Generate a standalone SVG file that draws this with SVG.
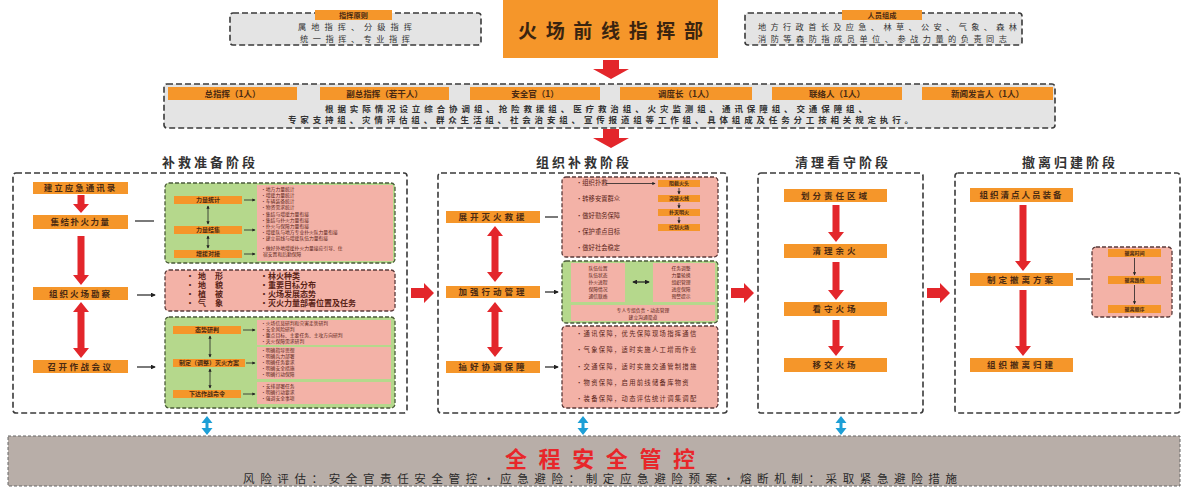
<svg xmlns="http://www.w3.org/2000/svg" width="1188" height="488" viewBox="0 0 1188 488">
<defs>
<style>
text{font-family:"Noto Sans CJK SC","Noto Sans",sans-serif}
.ob{fill:#f5962a}
.gbox{fill:#e4e4e4;stroke:#3a3a3a;stroke-width:1.6;stroke-dasharray:6 3}
.panel{fill:#fff;stroke:#3a3a3a;stroke-width:1.6;stroke-dasharray:6 3}
.green{fill:#b5d88c;stroke:#4a5a3a;stroke-width:1.3;stroke-dasharray:4 2}
.pinkd{fill:#f3b2a7;stroke:#5a3a3a;stroke-width:1.3;stroke-dasharray:4 2}
.pink{fill:#f3b2a7}
.red{fill:#e3262b}
.blue{fill:#1d9fd6}
.lbl{font-size:8.5px;font-weight:bold;fill:#4a2a12;text-anchor:middle}
.lbl2{font-size:6px;font-weight:bold;fill:#4a2a12;text-anchor:middle}
.tiny{font-size:4.8px;fill:#5a2418}
.sm{font-size:6.3px;fill:#5a2418}
.mid{font-size:8px;font-weight:bold;fill:#5a2418}
.row{font-size:8.5px;fill:#333;font-weight:bold}
.top{font-size:8.2px;fill:#333}
.title{font-size:13px;fill:#333;text-anchor:middle;letter-spacing:3px;font-weight:bold}
.conn{stroke:#222;stroke-width:1.2;fill:none}
.thin{stroke:#222;stroke-width:0.8;fill:none}
</style>
<marker id="ah" viewBox="0 0 6 6" refX="5" refY="3" markerWidth="4" markerHeight="4" orient="auto-start-reverse"><path d="M0,0 L6,3 L0,6 z" fill="#222"/></marker>
</defs>

<!-- Top -->
<g id="principle">
<rect class="gbox" x="230" y="13" width="251" height="32" rx="3"/>
<rect class="ob" x="315" y="10" width="77" height="10"/>
<text x="353.5" y="17.8" class="lbl" style="font-size:7.2px">指挥原则</text>
<text x="355" y="30" class="top" text-anchor="middle" textLength="114">属地指挥、分级指挥</text>
<text x="355" y="42" class="top" text-anchor="middle" textLength="110">统一指挥、专业指挥</text>
</g>
<g id="hq">
<rect class="ob" x="503" y="0" width="215" height="58"/>
<text x="518" y="38" style="font-size:19px;fill:#3a2410;font-weight:bold" textLength="185">火场前线指挥部</text>
</g>
<g id="members">
<rect class="gbox" x="745" y="13" width="277" height="32" rx="3"/>
<rect class="ob" x="842" y="10" width="80" height="10"/>
<text x="882" y="17.8" class="lbl" style="font-size:7.2px">人员组成</text>
<text x="758" y="30" class="top" textLength="259">地方行政首长及应急、林草、公安、气象、森林</text>
<text x="758" y="42" class="top" textLength="249">消防等森防指成员单位、参战力量的负责同志</text>
</g>

<!-- Row 2 -->
<g id="roles">
<rect class="gbox" x="164" y="84" width="891" height="44" rx="3"/>
<rect class="ob" x="168" y="87" width="129" height="13"/>
<text x="232.5" y="96.5" class="lbl">总指挥（1人）</text>
<rect class="ob" x="320" y="87" width="129" height="13"/>
<text x="384.5" y="96.5" class="lbl">副总指挥（若干人）</text>
<rect class="ob" x="470" y="87" width="130" height="13"/>
<text x="535" y="96.5" class="lbl">安全官（1）</text>
<rect class="ob" x="620" y="87" width="132" height="13"/>
<text x="686" y="96.5" class="lbl">调度长（1人）</text>
<rect class="ob" x="772" y="87" width="130" height="13"/>
<text x="837" y="96.5" class="lbl">联络人（1人）</text>
<rect class="ob" x="922" y="87" width="131" height="13"/>
<text x="987.5" y="96.5" class="lbl">新闻发言人（1人）</text>
<text x="325" y="112" class="row" textLength="542">根据实际情况设立综合协调组、抢险救援组、医疗救治组、火灾监测组、通讯保障组、交通保障组、</text>
<text x="288" y="123" class="row" textLength="625">专家支持组、灾情评估组、群众生活组、社会治安组、宣传报道组等工作组、具体组成及任务分工按相关规定执行。</text>
</g>

<!-- Stage titles -->
<text x="210" y="167" class="title">补救准备阶段</text>
<text x="584" y="167" class="title">组织补救阶段</text>
<text x="843" y="167" class="title">清理看守阶段</text>
<text x="1070" y="167" class="title">撤离归建阶段</text>

<!-- Panel 1 -->
<g id="stage1">
<rect class="panel" x="13" y="173" width="394" height="240" rx="3"/>
<rect class="ob" x="33" y="182" width="95" height="12"/>
<text x="80.5" y="191.3" class="lbl" style="letter-spacing:2px">建立应急通讯录</text>
<rect class="ob" x="33" y="215" width="95" height="14"/>
<text x="80.5" y="225.3" class="lbl" style="letter-spacing:1.5px">集结扑火力量</text>
<rect class="ob" x="33" y="287" width="95" height="13"/>
<text x="80.5" y="296.8" class="lbl" style="letter-spacing:2px">组织火场勘察</text>
<rect class="ob" x="33" y="360" width="95" height="13"/>
<text x="80.5" y="369.8" class="lbl" style="letter-spacing:2.5px">召开作战会议</text>

<!-- green box 1 -->
<rect class="green" x="165" y="183" width="230" height="80" rx="4"/>
<rect class="pink" x="257" y="185" width="136" height="76"/>
<rect class="ob" x="174" y="196" width="68" height="8"/>
<text x="208" y="202.2" class="lbl2">力量统计</text>
<rect class="ob" x="174" y="226" width="68" height="8"/>
<text x="208" y="232.2" class="lbl2">力量结集</text>
<rect class="ob" x="174" y="250" width="68" height="8"/>
<text x="208" y="256.2" class="lbl2">增援对接</text>
<text class="tiny" x="261" y="190.5">•地方力量统计</text>
<text class="tiny" x="261" y="196.5">•增援力量统计</text>
<text class="tiny" x="261" y="202.5">•车辆装备统计</text>
<text class="tiny" x="261" y="208.5">•物资需求统计</text>
<text class="tiny" x="261" y="216">•集结与增援力量衔接</text>
<text class="tiny" x="261" y="222">•集结与扑火力量衔接</text>
<text class="tiny" x="261" y="228">•扑火与保障力量衔接</text>
<text class="tiny" x="261" y="234">•增援队与地方专业扑火队力量衔接</text>
<text class="tiny" x="261" y="240">•建立前线与增援队伍力量衔接</text>
<text class="tiny" x="261" y="250">•做好外地增援扑火力量接应引导、住</text>
<text class="tiny" x="263" y="256">宿安置和后勤保障</text>

<!-- pink box 2 -->
<rect class="pinkd" x="165" y="270" width="230" height="41" rx="4"/>
<text class="mid" x="186" y="279">•</text><text class="mid" x="198" y="279">地</text><text class="mid" x="215" y="279">形</text>
<text class="mid" x="186" y="288">•</text><text class="mid" x="198" y="288">地</text><text class="mid" x="215" y="288">貌</text>
<text class="mid" x="186" y="297">•</text><text class="mid" x="198" y="297">植</text><text class="mid" x="215" y="297">被</text>
<text class="mid" x="186" y="306">•</text><text class="mid" x="198" y="306">气</text><text class="mid" x="215" y="306">象</text>
<text class="mid" x="260" y="279">•林火种类</text>
<text class="mid" x="260" y="288">•重要目标分布</text>
<text class="mid" x="260" y="297">•火场发展态势</text>
<text class="mid" x="260" y="306">•灭火力量部署位置及任务</text>

<!-- green box 3 -->
<rect class="green" x="165" y="317" width="230" height="91" rx="4"/>
<rect class="pink" x="257" y="320" width="134" height="25"/>
<rect class="pink" x="257" y="347" width="134" height="32"/>
<rect class="pink" x="257" y="382" width="134" height="22"/>
<rect class="ob" x="173" y="326" width="68" height="8"/>
<text x="207" y="332.2" class="lbl2">态势研判</text>
<rect class="ob" x="173" y="359" width="72" height="8"/>
<text x="209" y="365.2" class="lbl2">制定（调整）灭火方案</text>
<rect class="ob" x="173" y="390" width="68" height="8"/>
<text x="207" y="396.2" class="lbl2">下达作战命令</text>
<text class="tiny" x="261" y="325">•火场信息研判和灾害走势研判</text>
<text class="tiny" x="261" y="331">•安全风险研判</text>
<text class="tiny" x="261" y="337">•重点目标、主要任务、主攻方向研判</text>
<text class="tiny" x="261" y="343">•灭火保障需求研判</text>
<text class="tiny" x="261" y="352">•明确指导思想</text>
<text class="tiny" x="261" y="358">•明确兵力部署</text>
<text class="tiny" x="261" y="364">•明确任务要求</text>
<text class="tiny" x="261" y="370">•明确安全措施</text>
<text class="tiny" x="261" y="376">•明确行动保障</text>
<text class="tiny" x="261" y="388">•安排部署任务</text>
<text class="tiny" x="261" y="394">•明确行动要求</text>
<text class="tiny" x="261" y="400">•强调安全事项</text>
</g>

<!-- Panel 2 -->
<g id="stage2">
<rect class="panel" x="438" y="173" width="289" height="240" rx="3"/>
<rect class="ob" x="446" y="211" width="94" height="12"/>
<text x="493" y="220.3" class="lbl" style="letter-spacing:3px">展开灭火救援</text>
<rect class="ob" x="446" y="286" width="94" height="12"/>
<text x="493" y="295.3" class="lbl" style="letter-spacing:3px">加强行动管理</text>
<rect class="ob" x="446" y="361" width="94" height="12"/>
<text x="493" y="370.3" class="lbl" style="letter-spacing:3px">搞好协调保障</text>

<rect class="pinkd" x="562" y="177" width="156" height="80" rx="4"/>
<text class="sm" x="576" y="185">•组织扑救</text>
<text class="sm" x="576" y="201">•转移安置群众</text>
<text class="sm" x="576" y="218">•做好勤务保障</text>
<text class="sm" x="576" y="233.5">•保护重点目标</text>
<text class="sm" x="576" y="250">•做好社会稳定</text>
<rect class="ob" x="658" y="180" width="42" height="7"/>
<text x="679" y="185.3" class="lbl2" style="font-size:5px">阻截火头</text>
<rect class="ob" x="658" y="195" width="42" height="7"/>
<text x="679" y="200.3" class="lbl2" style="font-size:5px">突破火线</text>
<rect class="ob" x="658" y="209" width="42" height="7"/>
<text x="679" y="214.3" class="lbl2" style="font-size:5px">扑灭明火</text>
<rect class="ob" x="658" y="224" width="42" height="7"/>
<text x="679" y="229.3" class="lbl2" style="font-size:5px">控制火场</text>

<rect class="green" x="562" y="261" width="156" height="62" rx="4"/>
<rect class="pink" x="571" y="263" width="54" height="39"/>
<rect class="pink" x="653" y="263" width="62" height="39"/>
<rect class="pink" x="571" y="305" width="144" height="16"/>
<text class="tiny" x="598" y="269.5" text-anchor="middle">队伍位置</text>
<text class="tiny" x="598" y="276.5" text-anchor="middle">队伍状态</text>
<text class="tiny" x="598" y="283.5" text-anchor="middle">扑火进程</text>
<text class="tiny" x="598" y="290.5" text-anchor="middle">保障情况</text>
<text class="tiny" x="598" y="297.5" text-anchor="middle">通信联络</text>
<text class="tiny" x="681" y="269.5" text-anchor="middle">任务调整</text>
<text class="tiny" x="681" y="276.5" text-anchor="middle">力量轮换</text>
<text class="tiny" x="681" y="283.5" text-anchor="middle">组织管理</text>
<text class="tiny" x="681" y="290.5" text-anchor="middle">进度保障</text>
<text class="tiny" x="681" y="297.5" text-anchor="middle">预警提示</text>
<text class="tiny" x="643" y="312" text-anchor="middle">专人专组负责·动态管理</text>
<text class="tiny" x="643" y="318.5" text-anchor="middle">建立沟通渠道</text>

<rect class="pinkd" x="562" y="326" width="156" height="82" rx="4"/>
<text class="sm" x="576" y="336" style="letter-spacing:1.3px">•通讯保障，优先保障现场指挥通信</text>
<text class="sm" x="576" y="352" style="letter-spacing:1.3px">•气象保障，适时实施人工增雨作业</text>
<text class="sm" x="576" y="368.5" style="letter-spacing:1.3px">•交通保障，适时实施交通管制措施</text>
<text class="sm" x="576" y="384.5" style="letter-spacing:1.3px">•物资保障，启用前线储备库物资</text>
<text class="sm" x="576" y="401" style="letter-spacing:1.3px">•装备保障，动态评估统计调集调配</text>
</g>

<!-- Panel 3 -->
<g id="stage3">
<rect class="panel" x="758" y="173" width="165" height="240" rx="3"/>
<rect class="ob" x="784" y="189" width="103" height="13"/>
<text x="835.5" y="198.8" class="lbl" style="letter-spacing:3px">划分责任区域</text>
<rect class="ob" x="784" y="244" width="103" height="14"/>
<text x="835.5" y="254.3" class="lbl" style="letter-spacing:3px">清理余火</text>
<rect class="ob" x="784" y="302" width="103" height="14"/>
<text x="835.5" y="312.3" class="lbl" style="letter-spacing:3px">看守火场</text>
<rect class="ob" x="784" y="358" width="103" height="14"/>
<text x="835.5" y="368.3" class="lbl" style="letter-spacing:3px">移交火场</text>
</g>

<!-- Panel 4 -->
<g id="stage4">
<rect class="panel" x="955" y="173" width="225" height="240" rx="3"/>
<rect class="ob" x="970" y="188" width="103" height="14"/>
<text x="1021.5" y="198.3" class="lbl" style="letter-spacing:2px">组织清点人员装备</text>
<rect class="ob" x="970" y="273" width="103" height="13"/>
<text x="1021.5" y="282.8" class="lbl" style="letter-spacing:3px">制定撤离方案</text>
<rect class="ob" x="970" y="358" width="103" height="14"/>
<text x="1021.5" y="368.3" class="lbl" style="letter-spacing:3px">组织撤离归建</text>
<rect class="pinkd" x="1092" y="247" width="80" height="70" rx="4"/>
<rect class="ob" x="1108" y="249" width="53" height="8"/>
<text x="1134.5" y="255" class="lbl2" style="font-size:5px">撤离时间</text>
<rect class="ob" x="1108" y="276" width="53" height="8"/>
<text x="1134.5" y="282" class="lbl2" style="font-size:5px">撤离路线</text>
<rect class="ob" x="1108" y="305" width="53" height="8"/>
<text x="1134.5" y="311" class="lbl2" style="font-size:5px">撤离顺序</text>
</g>

<!-- Bottom -->
<g id="safety">
<rect x="8" y="436" width="1172" height="50" fill="#b8aea8" stroke="#666" stroke-width="1" stroke-dasharray="3 2"/>
<text x="505" y="467" style="font-size:22px;font-weight:bold;fill:#e8262a" textLength="190">全程安全管控</text>
<text x="243" y="483" style="font-size:11.5px;fill:#2a2a2a" textLength="714">风险评估：安全官责任安全管控·应急避险：制定应急避险预案·熔断机制：采取紧急避险措施</text>
</g>

<!-- Connectors -->
<g id="connectors">
<polygon class="red" points="603,60 619,60 619,69 629,69 611,79 593,69 603,69"/>
<polygon class="red" points="603,129 619,129 619,138 629,138 611,148 593,138 603,138"/>
<polygon class="red" points="411,288 424,288 424,283 434,293 424,303 424,298 411,298"/>
<polygon class="red" points="731,288 744,288 744,283 754,293 744,303 744,298 731,298"/>
<polygon class="red" points="927,288 940,288 940,283 950,293 940,303 940,298 927,298"/>
<polygon class="red" points="77.5,195 84.5,195 84.5,204 89,204 81,213 73,204 77.5,204"/>
<polygon class="red" points="77.5,236 84.5,236 84.5,275 89,275 81,285 73,275 77.5,275"/>
<polygon class="red" points="81,302 89,312 84.5,312 84.5,348 89,348 81,358 73,348 77.5,348 77.5,312 73,312"/>
<line class="conn" x1="135" y1="221" x2="154" y2="221"/>
<line class="conn" x1="137" y1="295" x2="155" y2="295" marker-end="url(#ah)"/>
<line class="conn" x1="137" y1="367" x2="155" y2="367" marker-end="url(#ah)"/>
<line class="thin" x1="244" y1="200" x2="255" y2="200" marker-end="url(#ah)"/>
<line class="thin" x1="244" y1="230" x2="255" y2="230" marker-end="url(#ah)"/>
<line class="thin" x1="244" y1="254" x2="255" y2="254" marker-end="url(#ah)"/>
<line class="thin" x1="208" y1="206" x2="208" y2="224" marker-start="url(#ah)" marker-end="url(#ah)"/>
<line class="thin" x1="208" y1="236" x2="208" y2="248" marker-start="url(#ah)" marker-end="url(#ah)"/>
<line class="thin" x1="243" y1="330" x2="255" y2="330" marker-end="url(#ah)"/>
<line class="thin" x1="246" y1="363" x2="255" y2="363" marker-end="url(#ah)"/>
<line class="thin" x1="243" y1="394" x2="255" y2="394" marker-end="url(#ah)"/>
<line class="thin" x1="210" y1="336" x2="210" y2="357" marker-start="url(#ah)" marker-end="url(#ah)"/>
<line class="thin" x1="210" y1="369" x2="210" y2="388" marker-start="url(#ah)" marker-end="url(#ah)"/>
<polygon class="red" points="495,226 503,236 498.5,236 498.5,272 503,272 495,282 487,272 491.5,272 491.5,236 487,236"/>
<polygon class="red" points="495,302 503,312 498.5,312 498.5,347 503,347 495,357 487,347 491.5,347 491.5,312 487,312"/>
<line class="conn" x1="545" y1="217" x2="558" y2="217"/>
<line class="conn" x1="545" y1="292" x2="558" y2="292" marker-end="url(#ah)"/>
<line class="conn" x1="545" y1="367" x2="558" y2="367" marker-end="url(#ah)"/>
<line class="thin" x1="606" y1="183.5" x2="655" y2="183.5" marker-end="url(#ah)"/>
<line class="thin" x1="679" y1="188" x2="679" y2="194" marker-end="url(#ah)"/>
<line class="thin" x1="679" y1="203" x2="679" y2="208" marker-end="url(#ah)"/>
<line class="thin" x1="679" y1="217" x2="679" y2="223" marker-end="url(#ah)"/>
<line class="conn" x1="633" y1="282" x2="649" y2="282" marker-start="url(#ah)" marker-end="url(#ah)"/>
<polygon class="red" points="832.5,205 839.5,205 839.5,232 844,232 836,242 828,232 832.5,232"/>
<polygon class="red" points="832.5,262 839.5,262 839.5,290 844,290 836,300 828,290 832.5,290"/>
<polygon class="red" points="832.5,320 839.5,320 839.5,346 844,346 836,356 828,346 832.5,346"/>
<polygon class="red" points="1019.5,205 1026.5,205 1026.5,261 1031,261 1023,271 1015,261 1019.5,261"/>
<polygon class="red" points="1019.5,290 1026.5,290 1026.5,346 1031,346 1023,356 1015,346 1019.5,346"/>
<line class="conn" x1="1076" y1="279" x2="1090" y2="279"/>
<line class="thin" x1="1134.5" y1="258" x2="1134.5" y2="275" marker-end="url(#ah)"/>
<line class="thin" x1="1134.5" y1="285" x2="1134.5" y2="304" marker-end="url(#ah)"/>
<polygon class="blue" points="207,416 212.5,423 208.5,423 208.5,428 212.5,428 207,435 201.5,428 205.5,428 205.5,423 201.5,423"/>
<polygon class="blue" points="583,416 588.5,423 584.5,423 584.5,428 588.5,428 583,435 577.5,428 581.5,428 581.5,423 577.5,423"/>
<polygon class="blue" points="841,416 846.5,423 842.5,423 842.5,428 846.5,428 841,435 835.5,428 839.5,428 839.5,423 835.5,423"/>
</g>
</svg>
